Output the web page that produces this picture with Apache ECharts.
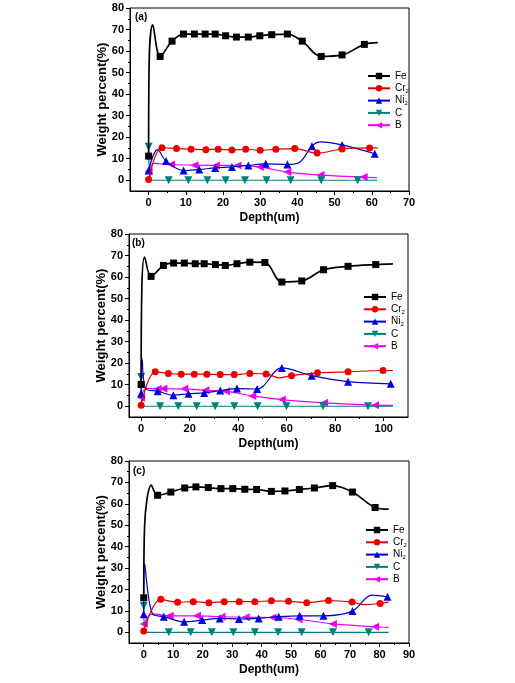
<!DOCTYPE html>
<html>
<head>
<meta charset="utf-8">
<script src="https://cdn.jsdelivr.net/npm/echarts@6/dist/echarts.min.js"></script>
<style>
html,body{margin:0;padding:0;background:#fff;}
#c{width:515px;height:683px;}
</style>
</head>
<body>
<div id="c"></div>
<script>
// ---------- DATA ----------
var seriesNames = ['Fe', 'Cr2', 'Ni2', 'C', 'B'];
var panelLabels = ['(a)', '(b)', '(c)'];
var yTickLabels = [0, 10, 20, 30, 40, 50, 60, 70, 80];
var yMinorTicks = [5, 15, 25, 35, 45, 55, 65, 75];
var xTickLabelsA = [0, 10, 20, 30, 40, 50, 60, 70];
var xMinorTicksA = [5, 15, 25, 35, 45, 55, 65];
var xTickLabelsB = [0, 20, 40, 60, 80, 100];
var xMinorTicksB = [10, 30, 50, 70, 90];
var xTickLabelsC = [0, 10, 20, 30, 40, 50, 60, 70, 80, 90];
var xMinorTicksC = [5, 15, 25, 35, 45, 55, 65, 75, 85];

// Panel (a)
var aFeDepth = [0, 0.15, 1.1, 3.1, 6.3, 9.4, 12.3, 15.2, 17.9, 20.7, 23.6, 26.8, 29.9, 33.1, 37.3, 41.3, 46.4, 52.0, 58.0, 61.6];
var aFeVal   = [11.2, 55, 72.2, 57.5, 64.6, 67.9, 67.9, 67.9, 67.9, 67.1, 66.5, 66.5, 67.1, 67.6, 67.9, 64.6, 57.5, 58.2, 63.1, 63.9];
var aFeUnmarked = [1, 2, 19];
var aCrDepth = [0, 3.6, 7.5, 11.4, 15.4, 18.7, 22.4, 26.1, 30.0, 34.2, 39.3, 45.3, 52.0, 59.4, 61.6];
var aCrVal   = [0.3, 15.1, 14.7, 14.4, 14.2, 14.4, 14.0, 14.4, 13.9, 14.4, 14.7, 12.6, 14.5, 15.0, 15.0];
var aCrUnmarked = [14];
var aNiDepth = [0, 2.4, 4.7, 9.4, 13.6, 17.9, 22.4, 26.8, 31.5, 37.3, 40.5, 43.9, 46.2, 52.0, 60.8];
var aNiVal   = [4.5, 14.2, 8.9, 4.5, 5.0, 5.7, 6.2, 6.9, 7.6, 7.3, 8.2, 15.8, 17.8, 16.4, 12.3];
var aNiUnmarked = [1, 10, 12];
var aCDepth = [0, 1.0, 5.4, 10.7, 15.8, 20.7, 25.9, 31.7, 38.2, 46.4, 56.2, 61.5];
var aCVal   = [15.6, 0, 0, 0, 0, 0, 0, 0, 0, 0, 0, 0];
var aCUnmarked = [1, 11];
var aBDepth = [0, 1.5, 6.0, 12.3, 18.1, 23.9, 29.9, 37.3, 46.2, 57.8, 61.4];
var aBVal   = [4.2, 7.8, 7.3, 7.0, 6.9, 6.9, 6.2, 3.8, 2.4, 1.5, 1.1];
var aBUnmarked = [1, 10];

// Panel (b)
var bFeDepth = [0, 0.3, 1.4, 4.1, 9.2, 13.4, 17.8, 22.3, 26.0, 30.6, 34.7, 39.5, 44.8, 51.0, 58.0, 66.2, 75.2, 85.3, 96.7, 103.8];
var bFeVal   = [10.1, 55, 69.3, 60.3, 65.4, 66.5, 66.5, 66.2, 66.2, 65.8, 65.4, 66.2, 66.9, 66.8, 57.7, 58.2, 63.4, 65.0, 65.8, 66.1];
var bFeUnmarked = [1, 2, 19];
var bCrDepth = [0, 5.8, 11.2, 16.5, 21.9, 27.1, 32.6, 38.4, 44.8, 51.5, 57.0, 62.0, 72.7, 85.3, 99.7, 103.8];
var bCrVal   = [0.5, 16.0, 15.2, 14.9, 14.9, 14.9, 14.7, 14.7, 15.2, 15.0, 13.2, 14.2, 15.5, 16.0, 16.6, 16.6];
var bCrUnmarked = [10, 15];
var bNiDepth = [0, 0.4, 2.0, 6.8, 13.3, 19.5, 26.0, 32.6, 39.5, 47.8, 58.0, 70.3, 85.3, 102.9];
var bNiVal   = [5.9, 22, 8.0, 7.0, 5.1, 5.8, 6.2, 7.3, 8.2, 8.0, 17.8, 14.2, 11.4, 10.4];
var bNiUnmarked = [1, 2];
var bCDepth = [0, 0.6, 7.8, 15.3, 22.9, 30.5, 38.4, 48.0, 59.9, 75.0, 93.5, 103.8];
var bCVal   = [13.6, 0, 0, 0, 0, 0, 0, 0, 0, 0, 0, 0];
var bCUnmarked = [1, 11];
var bBDepth = [0, 2.0, 6.8, 9.2, 17.8, 26.5, 35.0, 45.8, 58.0, 75.4, 96.4, 103.8];
var bBVal   = [3.9, 8.3, 8.1, 8.1, 8.1, 7.4, 7.0, 4.8, 3.1, 1.6, 0.5, 0.4];
var bBUnmarked = [1, 11];

// Panel (c)
var cFeDepth = [0, 0.3, 2.6, 4.7, 9.2, 13.9, 17.7, 21.9, 26.2, 30.2, 34.3, 38.3, 43.3, 47.9, 52.8, 57.9, 64.1, 70.8, 78.5, 83.1];
var cFeVal   = [16.1, 50, 68.7, 64.0, 65.5, 67.4, 67.9, 67.6, 67.1, 67.1, 66.8, 66.7, 65.8, 66.0, 66.7, 67.4, 68.5, 65.5, 58.3, 57.5];
var cFeUnmarked = [1, 2, 19];
var cCrDepth = [0, 5.8, 11.5, 16.8, 22.1, 27.3, 32.4, 37.7, 43.3, 49.1, 55.3, 62.7, 70.7, 74.5, 80.2, 83.1];
var cCrVal   = [0.6, 15.4, 14.0, 14.3, 13.8, 14.3, 14.3, 14.3, 14.7, 14.5, 13.8, 14.8, 14.1, 12.9, 13.5, 14.1];
var cCrUnmarked = [13, 15];
var cNiDepth = [0, 0.3, 3.0, 6.8, 13.7, 19.8, 25.8, 32.3, 39.0, 45.8, 52.9, 61.0, 70.8, 77.4, 82.7];
var cNiVal   = [8.4, 32.2, 8.5, 7.3, 4.9, 5.7, 6.5, 6.2, 6.5, 7.3, 7.7, 7.7, 9.9, 17.4, 16.6];
var cNiUnmarked = [1, 2, 13];
var cCDepth = [0, 0.6, 8.5, 15.9, 23.1, 30.4, 37.7, 45.6, 53.6, 64.2, 76.3, 83.1];
var cCVal   = [12.3, 0, 0, 0, 0, 0, 0, 0, 0, 0, 0, 0];
var cCUnmarked = [1, 11];
var cBDepth = [0, 3.0, 8.8, 18.1, 26.4, 34.6, 43.7, 52.5, 64.2, 78.5, 83.1];
var cBVal   = [3.9, 8.6, 7.7, 7.7, 7.3, 7.0, 6.9, 6.1, 3.9, 2.6, 2.3];
var cBUnmarked = [1, 10];

// ---------- STYLE ----------
var FONT = '"Liberation Sans", Arial, sans-serif';
var styles = {
  'Fe':  {color: '#000000', line: '#000000', symbol: 'rect', size: 7, rotate: 0, width: 1.7},
  'Cr2': {color: '#ee0000', line: '#dd0000', symbol: 'circle', size: 7, rotate: 0, width: 1.2},
  'Ni2': {color: '#0000dd', line: '#0000cc', symbol: 'triangle', size: 8, rotate: 0, width: 1.2},
  'C':   {color: '#008080', line: '#008080', symbol: 'triangle', size: 8, rotate: 180, width: 1.2},
  'B':   {color: '#ee00ee', line: '#ee00ee', symbol: 'triangle', size: 8, rotate: 90, width: 1.2}
};

var panels = [
  {grid: {left: 130, top: 8, width: 279, height: 183},
   xMin: -5, xMax: 70, xLabels: xTickLabelsA, xMinor: xMinorTicksA,
   legendTop: 70, legendLeft: 367, labelTop: 12, labelLeft: 135,
   data: [[aFeDepth, aFeVal, aFeUnmarked], [aCrDepth, aCrVal, aCrUnmarked], [aNiDepth, aNiVal, aNiUnmarked], [aCDepth, aCVal, aCUnmarked], [aBDepth, aBVal, aBUnmarked]]},
  {grid: {left: 129, top: 234, width: 279, height: 183},
   xMin: -5, xMax: 110, xLabels: xTickLabelsB, xMinor: xMinorTicksB,
   legendTop: 291, legendLeft: 363, labelTop: 238, labelLeft: 132,
   data: [[bFeDepth, bFeVal, bFeUnmarked], [bCrDepth, bCrVal, bCrUnmarked], [bNiDepth, bNiVal, bNiUnmarked], [bCDepth, bCVal, bCUnmarked], [bBDepth, bBVal, bBUnmarked]]},
  {grid: {left: 129, top: 461, width: 280, height: 182},
   xMin: -5, xMax: 90, xLabels: xTickLabelsC, xMinor: xMinorTicksC,
   legendTop: 524, legendLeft: 365, labelTop: 466, labelLeft: 133,
   data: [[cFeDepth, cFeVal, cFeUnmarked], [cCrDepth, cCrVal, cCrUnmarked], [cNiDepth, cNiVal, cNiUnmarked], [cCDepth, cCVal, cCUnmarked], [cBDepth, cBVal, cBUnmarked]]}
];

var grids = [], xAxes = [], yAxes = [], series = [], legends = [], titles = [];
var axisLabelStyle = {color: '#000', fontSize: 11, fontWeight: 'bold', fontFamily: FONT};

panels.forEach(function (p, pi) {
  grids.push(Object.assign({show: true, borderColor: '#000', borderWidth: 1, backgroundColor: 'transparent'}, p.grid));
  xAxes.push({
    type: 'value', gridIndex: pi, min: p.xMin, max: p.xMax, position: 'bottom',
    axisLine: {show: true, onZero: false, lineStyle: {color: '#000', width: 1}},
    axisTick: {show: true, inside: false, length: 4, customValues: p.xLabels, lineStyle: {color: '#000'}},
    axisLabel: Object.assign({show: true, margin: 6, customValues: p.xLabels}, axisLabelStyle),
    splitLine: {show: false},
    name: 'Depth(um)', nameLocation: 'middle', nameGap: 21,
    nameTextStyle: {color: '#000', fontSize: 12, fontWeight: 'bold', fontFamily: FONT}
  });
  xAxes.push({
    type: 'value', gridIndex: pi, min: p.xMin, max: p.xMax, position: 'bottom', offset: 0,
    axisLine: {show: false, onZero: false},
    axisTick: {show: true, inside: false, length: 2, customValues: p.xMinor, lineStyle: {color: '#000'}},
    axisLabel: {show: false}, splitLine: {show: false}
  });
  yAxes.push({
    type: 'value', gridIndex: pi, min: -5, max: 80, position: 'left',
    axisLine: {show: true, onZero: false, lineStyle: {color: '#000', width: 1}},
    axisTick: {show: true, inside: false, length: 4, customValues: yTickLabels, lineStyle: {color: '#000'}},
    axisLabel: Object.assign({show: true, margin: 6, customValues: yTickLabels}, axisLabelStyle),
    splitLine: {show: false},
    name: 'Weight percent(%)', nameLocation: 'middle', nameGap: 21, nameMoveOverlap: false,
    nameTextStyle: {color: '#000', fontSize: 13, fontWeight: 'bold', fontFamily: FONT}
  });
  yAxes.push({
    type: 'value', gridIndex: pi, min: -5, max: 80, position: 'left', offset: 0,
    axisLine: {show: false, onZero: false},
    axisTick: {show: true, inside: false, length: 2, customValues: yMinorTicks, lineStyle: {color: '#000'}},
    axisLabel: {show: false}, splitLine: {show: false}
  });

  p.data.forEach(function (d, si) {
    var name = seriesNames[si];
    var st = styles[name];
    var depths = d[0], vals = d[1], unmarked = d[2];
    var pts = depths.map(function (x, i) { return [x, vals[i]]; });
    series.push({
      name: name, type: 'line', xAxisIndex: pi * 2, yAxisIndex: pi * 2,
      data: pts, smooth: 0.35,
      symbol: st.symbol, symbolRotate: st.rotate,
      symbolSize: function (v, params) { return unmarked.indexOf(params.dataIndex) >= 0 ? 0 : st.size; },
      showAllSymbol: true,
      itemStyle: {color: st.color},
      lineStyle: {color: st.line, width: st.width},
      z: 10 - si,
      animation: false
    });
  });

  legends.push({
    orient: 'vertical', left: p.legendLeft, top: p.legendTop, padding: 0,
    itemWidth: 22, itemHeight: 8, itemGap: 0.3,
    data: seriesNames,
    selectedMode: false,
    textStyle: {color: '#000', fontSize: 10, fontFamily: FONT, lineHeight: 12,
      rich: {n: {fontSize: 10, fontFamily: FONT, color: '#000', lineHeight: 12},
             s: {fontSize: 6, fontFamily: FONT, color: '#000', lineHeight: 12, verticalAlign: 'bottom'}}},
    formatter: function (name) {
      if (name === 'Cr2') return '{n|Cr}{s|2}';
      if (name === 'Ni2') return '{n|Ni}{s|2}';
      return '{n|' + name + '}';
    }
  });

  titles.push({
    text: panelLabels[pi], left: p.labelLeft, top: p.labelTop, padding: 0,
    textStyle: {color: '#000', fontSize: 10, fontWeight: 'bold', fontFamily: FONT}
  });
});

var chart = echarts.init(document.getElementById('c'), null, {renderer: 'canvas'});
chart.setOption({
  animation: false,
  backgroundColor: '#fff',
  title: titles,
  grid: grids,
  xAxis: xAxes,
  yAxis: yAxes,
  legend: legends,
  series: series
});
</script>
</body>
</html>
